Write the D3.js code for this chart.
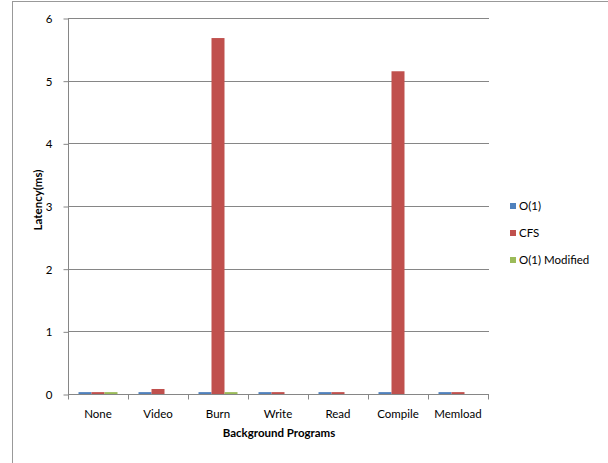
<!DOCTYPE html>
<html><head><meta charset="utf-8">
<script src="https://cdn.jsdelivr.net/npm/d3@7"></script>
<style>body{margin:0;background:#fff}svg{display:block}</style>
</head><body><svg id="c" width="608" height="463"></svg>
<script>
const categories = ["None","Video","Burn","Write","Read","Compile","Memload"];
const seriesNames = ["O(1)","CFS","O(1) Modified"];
const o1 = [0.03,0.03,0.03,0.03,0.03,0.03,0.03];
const cfs = [0.03,0.08,5.68,0.03,0.03,5.15,0.03];
const o1mod = [0.03,0,0.03,0,0,0,0];
const yTicks = [0,1,2,3,4,5,6];
const colors = ["#4F81BD","#C0504D","#9BBB59"];

const series = [o1,cfs,o1mod];
const svg = d3.select("#c");
const font = "Lato, 'Open Sans', sans-serif";
const grey = "#868686";

// frame
svg.append("line").attr("x1",12.5).attr("x2",12.5).attr("y1",1).attr("y2",463).attr("stroke","#999").attr("stroke-width",1);
svg.append("line").attr("x1",12).attr("x2",608).attr("y1",1.5).attr("y2",1.5).attr("stroke","#999").attr("stroke-width",1);

const x = d3.scaleBand().domain(categories).range([68,488]).paddingInner(0).paddingOuter(0);
const xs = d3.scaleBand().domain(d3.range(3)).range([10.5, 60-10.5]);
const y = d3.scaleLinear().domain([0,6]).range([394,18]);

// gridlines
svg.append("g").selectAll("line").data(yTicks.filter(d=>d>0)).join("line")
  .attr("x1",68).attr("x2",489).attr("y1",d=>Math.round(y(d))+0.5).attr("y2",d=>Math.round(y(d))+0.5)
  .attr("stroke",grey).attr("stroke-width",1);

// y axis
const ya = svg.append("g").attr("transform","translate(68.5,0.5)")
  .call(d3.axisLeft(y).tickValues(yTicks).tickSize(5).tickFormat(d3.format("d")));
ya.select(".domain").attr("stroke",grey).attr("d","M0,"+Math.round(y(6))+"V"+Math.round(y(0)));
ya.selectAll(".tick line").attr("stroke",grey);
ya.selectAll(".tick text").attr("font-family",font).attr("font-size",11.5).attr("fill","#000").attr("x",-16).attr("dy","0.35em");

// bars
categories.forEach((c,i)=>{
  series.forEach((s,j)=>{
    const v = s[i];
    if (v<=0) return;
    svg.append("rect")
      .attr("x", x(c)+xs(j)).attr("width", xs.bandwidth())
      .attr("y", y(v)).attr("height", y(0)-y(v))
      .attr("fill", colors[j]);
  });
});

// x axis
const xa = svg.append("g").attr("transform","translate(0,"+(Math.round(y(0))+0.5)+")");
xa.append("line").attr("x1",68).attr("x2",489).attr("stroke",grey);
xa.selectAll("line.t").data(d3.range(categories.length+1)).join("line").attr("class","t")
  .attr("x1",d=>Math.round(68+d*x.bandwidth())+0.5).attr("x2",d=>Math.round(68+d*x.bandwidth())+0.5)
  .attr("y1",0).attr("y2",5).attr("stroke",grey);
xa.selectAll("text").data(categories).join("text")
  .attr("x",d=>x(d)+x.bandwidth()/2).attr("y",23).attr("text-anchor","middle")
  .attr("font-family",font).attr("font-size",11.5).text(d=>d);

// titles
svg.append("text").attr("x",279).attr("y",437).attr("text-anchor","middle")
  .attr("font-family",font).attr("font-size",11.5).attr("font-weight","bold").text("Background Programs");
svg.append("text").attr("transform","translate(42,200) rotate(-90)").attr("text-anchor","middle")
  .attr("font-family",font).attr("font-size",11.5).attr("font-weight","bold").text("Latency(ms)");

// legend
const lg = svg.append("g");
const ly = [206,233,260];
seriesNames.forEach((n,j)=>{
  lg.append("rect").attr("x",510).attr("y",ly[j]-3).attr("width",6).attr("height",6).attr("fill",colors[j]);
  lg.append("text").attr("x",519).attr("y",ly[j]).attr("dy","0.35em")
    .attr("font-family",font).attr("font-size",11.5).text(n);
});
</script></body></html>
